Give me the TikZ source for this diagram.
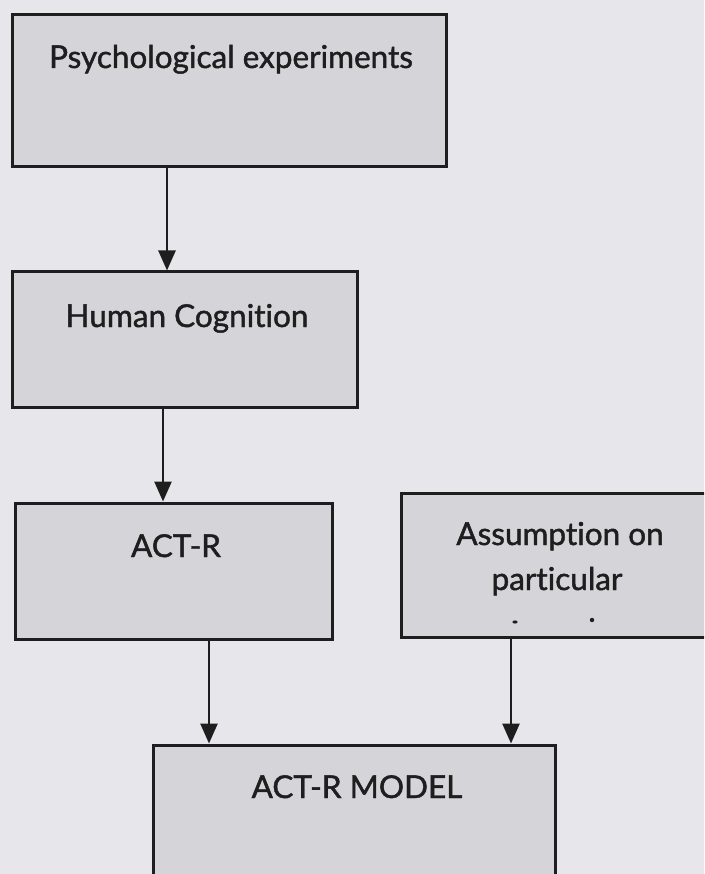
\documentclass[tikz,border=0pt]{standalone}
\usepackage{fontspec}
\setmainfont[RawFeature={-liga}, FakeBold=1.4]{Lato}
\usetikzlibrary{arrows.meta}
\definecolor{pagebg}{HTML}{E7E6EA}
\definecolor{boxfill}{HTML}{D5D4D8}
\definecolor{ink}{HTML}{1E1E1E}
\tikzset{
  box/.style={draw=ink, line width=3pt, fill=boxfill, rectangle, inner sep=0pt},
  lbl/.style={anchor=base, inner sep=0pt, text=ink, font=\fontsize{31.5}{36}\selectfont},
  arr/.style={draw=ink, line width=2.6pt, -{Triangle[length=20pt,width=17pt]}}
}
\begin{document}
\begin{tikzpicture}[x=1pt,y=-1pt]
  \fill[pagebg] (0,0) rectangle (704,874);
  \useasboundingbox (0,0) rectangle (704,874);
  \clip (0,0) rectangle (704,874);

  % boxes
  \node[box, minimum width=434pt, minimum height=152pt] (b1) at (229.5,91) {};
  \node[box, minimum width=345pt, minimum height=135pt] (b2) at (184.5,339.5) {};
  \node[box, minimum width=317pt, minimum height=136pt] (b3) at (173.5,571) {};
  \node[box, minimum width=329pt, minimum height=144pt] (b4) at (565.5,565) {};
  \node[box, minimum width=402pt, minimum height=175pt] (b5) at (354,832.5) {};

  % labels
  \node[lbl] (t1) at (231,68) {Psychological experiments};
  \node[lbl] (t2) at (187,327) {Human Cognition};
  \node[lbl] (t3) at (176,557) {ACT-R};
  \node[lbl] (t4a) at (560,545) {Assumption on};
  \node[lbl] (t4b) at (557,590) {particular};
  \node[lbl] (t5) at (357,798) {ACT-R MODEL};

  % small marks under the second line
  \fill[ink] (515,622) ellipse (2.6pt and 1.6pt);
  \fill[ink] (592,620) circle (2.2pt);

  % connectors
  \draw[arr] (b1.south -| 167,0) -- (b2.north -| 167,0);
  \draw[arr] (b2.south -| 163,0) -- (b3.north -| 163,0);
  \draw[arr] (b3.south -| 209,0) -- (b5.north -| 209,0);
  \draw[arr] (b4.south -| 511,0) -- (b5.north -| 511,0);
\end{tikzpicture}
\end{document}
